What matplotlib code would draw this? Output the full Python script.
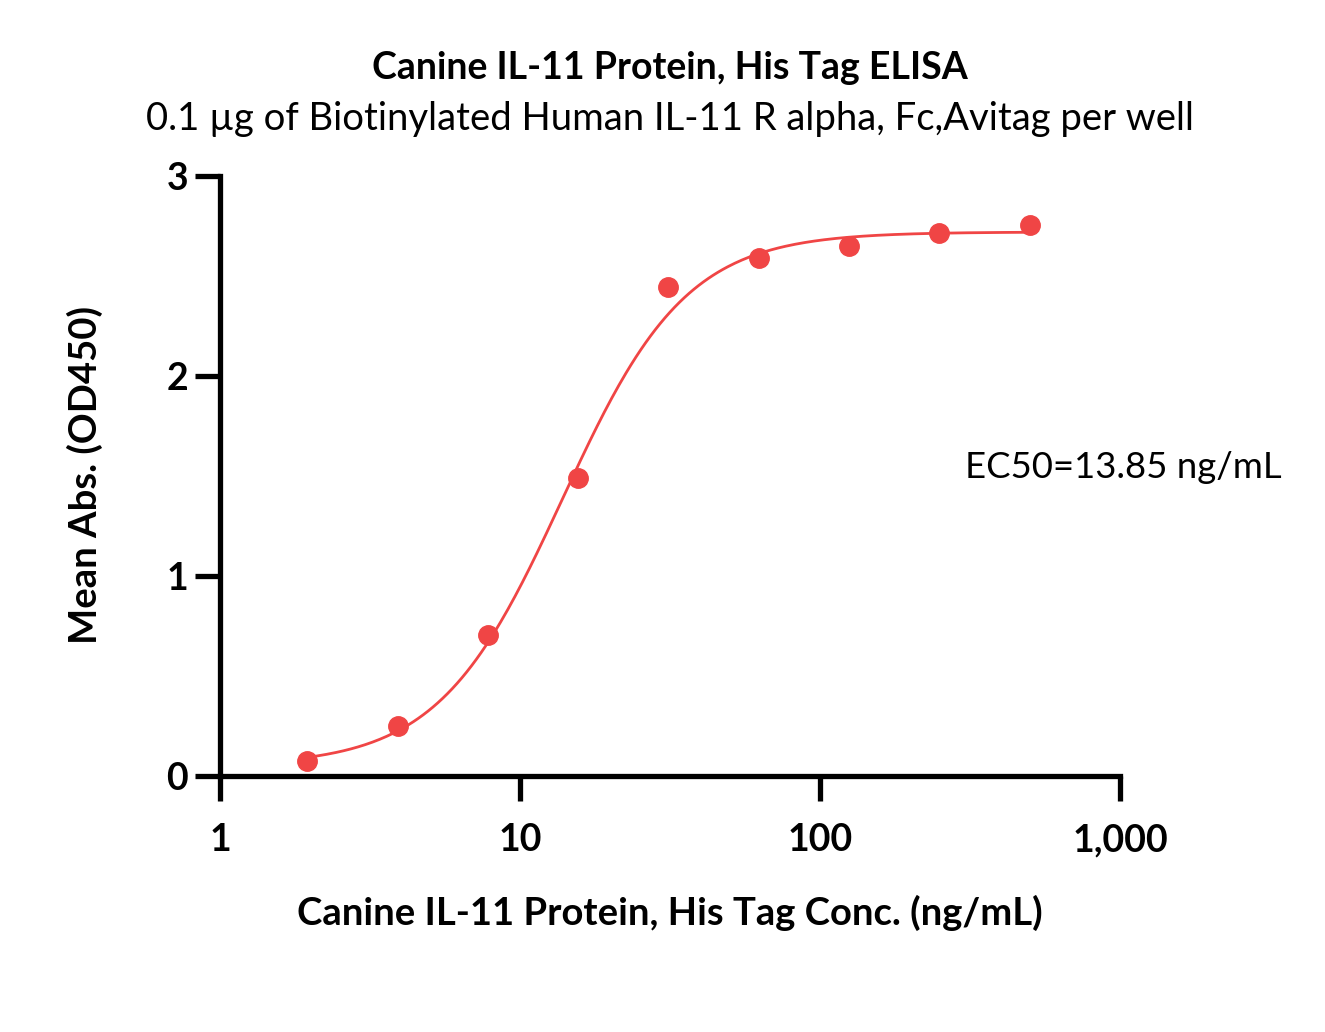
import numpy as np
import matplotlib.pyplot as plt

plt.rcParams['font.family'] = ['Lato', 'DejaVu Sans']

# measured points (ng/mL, OD450)
conc = [1.953, 3.906, 7.8125, 15.625, 31.25, 62.5, 125, 250, 500]
od450 = [0.075, 0.25, 0.705, 1.49, 2.445, 2.59, 2.65, 2.715, 2.755]

# 4PL fit parameters
bottom, top, ec50, hill = 0.05, 2.72, 13.85, 2.1

red = "#F04545"

fig = plt.figure(figsize=(13.25, 10.32), dpi=100)
ax = fig.add_axes([220 / 1325, 1 - 776 / 1032, 900 / 1325, 600 / 1032])

xs = np.logspace(np.log10(conc[0]), np.log10(conc[-1]), 300)
fit = bottom + (top - bottom) / (1 + (ec50 / xs) ** hill)
ax.plot(xs, fit, color=red, lw=2, clip_on=False)
ax.plot(conc, od450, "o", color=red, ms=14, clip_on=False)

ax.set_xscale("log")
ax.set_xlim(1, 1000)
ax.set_ylim(0, 3)
ax.set_xticks([1, 10, 100, 1000])
ax.set_xticklabels(["1", "10", "100", "1,000"])
ax.set_yticks([0, 1, 2, 3])
ax.minorticks_off()

for s in ["top", "right"]:
    ax.spines[s].set_visible(False)
for s in ["left", "bottom"]:
    ax.spines[s].set_linewidth(3.8)
ax.tick_params(width=3.8, length=18, labelsize=27)
ax.tick_params(axis="x", pad=16)
ax.tick_params(axis="y", pad=5)
for lab in ax.get_xticklabels() + ax.get_yticklabels():
    lab.set_fontweight("bold")

fig.text(670 / 1325, 1 - 68 / 1032, "Canine IL-11 Protein, His Tag ELISA",
         ha="center", va="center", fontsize=27, fontweight="bold")
fig.text(670 / 1325, 1 - 119 / 1032,
         "0.1 µg of Biotinylated Human IL-11 R alpha, Fc,Avitag per well",
         ha="center", va="center", fontsize=27.5)
fig.text(670 / 1325, 1 - 913 / 1032, "Canine IL-11 Protein, His Tag Conc. (ng/mL)",
         ha="center", va="center", fontsize=27.5, fontweight="bold")
fig.text(85 / 1325, 1 - 475 / 1032, "Mean Abs. (OD450)",
         ha="center", va="center", fontsize=27.5, fontweight="bold", rotation=90)
fig.text(965 / 1325, 1 - 467 / 1032, "EC50=13.85 ng/mL",
         ha="left", va="center", fontsize=26.3)

fig.savefig("out.png", dpi=100)
